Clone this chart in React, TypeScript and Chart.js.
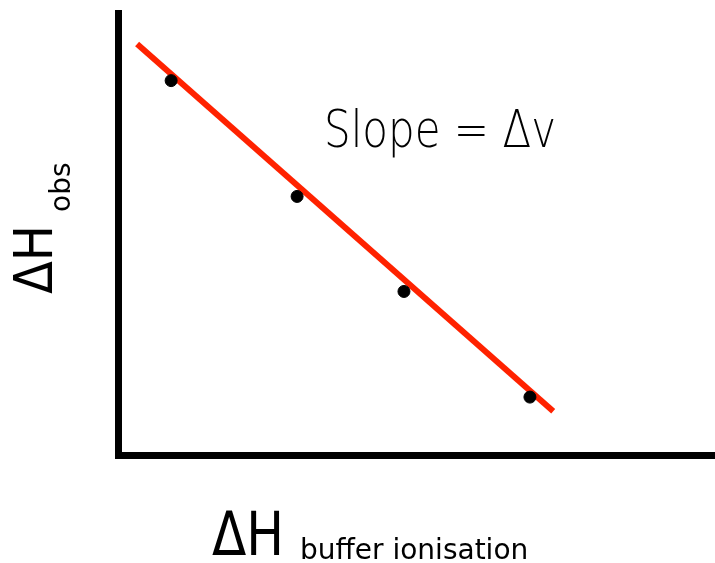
import React, { useEffect, useRef } from "react";
import { Chart, registerables } from "chart.js";

Chart.register(...registerables);

// Observed points (arbitrary units, 0–100 on both axes)
const pointX = [8.9, 30.0, 47.9, 69.0];
const pointY = [84.7, 58.5, 37.0, 13.1];

// Fitted line end points
const lineX = [3.2, 72.9];
const lineY = [93.0, 9.9];

const xTitleMain = "ΔH";
const xTitleSub = "buffer ionisation";
const yTitleMain = "ΔH";
const yTitleSub = "obs";
const annotation = "Slope = Δv";

const labelsPlugin = {
  id: "labelsPlugin",
  afterDraw(chart: any) {
    const ctx = chart.ctx as CanvasRenderingContext2D;
    ctx.save();
    ctx.fillStyle = "#000";
    ctx.textAlign = "left";
    ctx.textBaseline = "alphabetic";

    // x title
    ctx.font = "60px 'DejaVu Sans'";
    ctx.fillText(xTitleMain, 212, 555, 72);
    ctx.font = "28px 'DejaVu Sans'";
    ctx.fillText(xTitleSub, 300, 559, 248);

    // y title (rotated)
    ctx.save();
    ctx.translate(52, 294);
    ctx.rotate(-Math.PI / 2);
    ctx.font = "53px 'DejaVu Sans'";
    ctx.fillText(yTitleMain, 0, 0, 69);
    ctx.restore();
    ctx.save();
    ctx.translate(70, 212);
    ctx.rotate(-Math.PI / 2);
    ctx.font = "28px 'DejaVu Sans'";
    ctx.fillText(yTitleSub, 0, 0, 52);
    ctx.restore();

    // annotation
    ctx.font = "200 52px 'DejaVu Sans ExtraLight', 'DejaVu Sans', sans-serif";
    ctx.fillText(annotation, 324, 147, 232);
    ctx.restore();
  },
};

export default function App() {
  const ref = useRef<HTMLCanvasElement | null>(null);
  useEffect(() => {
    if (!ref.current) return;
    const chart = new Chart(ref.current, {
      type: "scatter",
      data: {
        datasets: [
          {
            type: "line",
            data: lineX.map((x, i) => ({ x, y: lineY[i] })),
            borderColor: "#ff2200",
            borderWidth: 6,
            pointRadius: 0,
            fill: false,
            order: 2,
          } as any,
          {
            type: "scatter",
            data: pointX.map((x, i) => ({ x, y: pointY[i] })),
            backgroundColor: "#000",
            borderColor: "#000",
            pointRadius: 6,
            order: 1,
          },
        ],
      },
      options: {
        responsive: false,
        animation: false,
        layout: { padding: { left: 118, top: 13, right: 0, bottom: 108 } },
        plugins: { legend: { display: false }, tooltip: { enabled: false } },
        scales: {
          x: {
            type: "linear",
            min: 0,
            max: 100,
            grid: { display: false, drawTicks: false },
            ticks: { display: false },
            border: { display: true, color: "#000", width: 7 },
          },
          y: {
            type: "linear",
            min: 0,
            max: 100,
            grid: { display: false, drawTicks: false },
            ticks: { display: false },
            border: { display: true, color: "#000", width: 7 },
          },
        },
      },
      plugins: [labelsPlugin],
    });
    return () => chart.destroy();
  }, []);
  return (
    <div style={{ position: "absolute", left: 0, top: 0, width: 715, height: 563, overflow: "hidden", background: "#fff" }}>
      <canvas ref={ref} width={722} height={563} style={{ width: 722, height: 563 }} />
    </div>
  );
}
